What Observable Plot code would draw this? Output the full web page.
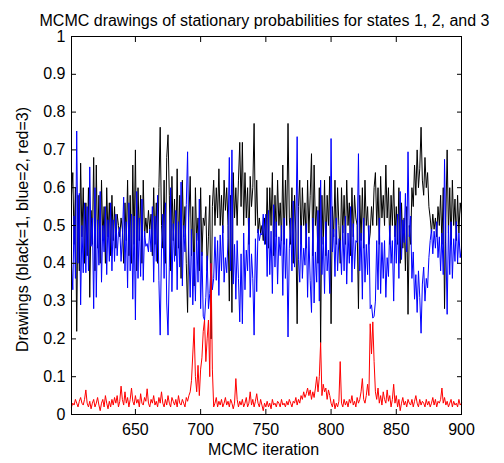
<!DOCTYPE html>
<html><head><meta charset="utf-8">
<script src="https://cdn.jsdelivr.net/npm/d3@7"></script>
<script src="https://cdn.jsdelivr.net/npm/@observablehq/plot@0.6"></script>
<style>body{margin:0;background:#fff}#chart svg{display:block}</style>
</head><body><div id="chart"></div>
<script>
const iterations = d3.range(601, 901);

const black = [
0.58,0.64,0.45,0.6,0.22,0.58,0.38,0.665,0.47,0.6,
0.4,0.56,0.42,0.6,0.31,0.54,0.45,0.68,0.38,0.66,
0.44,0.58,0.4,0.62,0.46,0.55,0.4,0.6,0.47,0.56,
0.42,0.58,0.46,0.55,0.44,0.53,0.5,0.47,0.52,0.49,
0.4,0.56,0.46,0.62,0.42,0.58,0.4,0.66,0.45,0.7,
0.38,0.6,0.46,0.58,0.4,0.62,0.47,0.52,0.48,0.54,
0.49,0.53,0.42,0.6,0.45,0.56,0.4,0.6,0.76,0.5,
0.44,0.62,0.4,0.68,0.74,0.58,0.38,0.63,0.46,0.57,
0.42,0.65,0.44,0.58,0.36,0.62,0.47,0.55,0.4,0.27,
0.52,0.63,0.42,0.55,0.34,0.6,0.46,0.52,0.38,0.6,
0.42,0.52,0.5,0.55,0.38,0.47,0.58,0.2,0.55,0.62,
0.5,0.6,0.52,0.65,0.5,0.58,0.48,0.62,0.54,0.6,
0.5,0.3,0.58,0.27,0.64,0.52,0.6,0.5,0.62,0.72,
0.55,0.72,0.5,0.64,0.52,0.6,0.45,0.63,0.55,0.6,
0.77,0.5,0.62,0.48,0.52,0.48,0.5,0.46,0.52,0.45,
0.6,0.44,0.6,0.5,0.64,0.42,0.58,0.47,0.62,0.5,
0.56,0.46,0.66,0.45,0.62,0.5,0.77,0.52,0.45,0.6,
0.4,0.58,0.48,0.24,0.55,0.62,0.45,0.6,0.5,0.56,
0.44,0.62,0.48,0.58,0.69,0.42,0.66,0.5,0.55,0.4,
0.6,0.19,0.58,0.45,0.62,0.42,0.58,0.5,0.63,0.24,
0.55,0.47,0.62,0.45,0.6,0.5,0.4,0.6,0.48,0.58,
0.45,0.62,0.5,0.56,0.42,0.6,0.47,0.58,0.52,0.5,
0.28,0.58,0.46,0.6,0.44,0.62,0.5,0.55,0.45,0.48,
0.55,0.5,0.6,0.64,0.5,0.6,0.45,0.63,0.52,0.58,
0.5,0.66,0.52,0.6,0.45,0.58,0.5,0.62,0.47,0.55,
0.45,0.6,0.4,0.56,0.44,0.52,0.38,0.55,0.265,0.5,
0.45,0.6,0.55,0.66,0.58,0.7,0.6,0.65,0.76,0.62,
0.58,0.68,0.6,0.64,0.55,0.52,0.48,0.53,0.49,0.52,
0.47,0.55,0.5,0.58,0.45,0.6,0.28,0.52,0.7,0.48,
0.6,0.45,0.62,0.5,0.57,0.46,0.58,0.48,0.56,0.53
];

const blue = [
0.4,0.33,0.525,0.36,0.75,0.4,0.585,0.29,0.5,0.375,
0.56,0.375,0.55,0.38,0.655,0.445,0.52,0.28,0.6,0.31,
0.515,0.395,0.59,0.35,0.5,0.43,0.55,0.37,0.515,0.405,
0.56,0.38,0.515,0.405,0.53,0.42,0.48,0.495,0.405,0.47,
0.575,0.38,0.51,0.335,0.56,0.38,0.53,0.305,0.525,0.25,
0.59,0.36,0.52,0.365,0.57,0.355,0.485,0.445,0.452,0.43,
0.49,0.43,0.55,0.35,0.525,0.405,0.58,0.355,0.21,0.44,
0.53,0.36,0.56,0.295,0.21,0.39,0.6,0.325,0.505,0.405,
0.54,0.33,0.51,0.39,0.615,0.34,0.5,0.43,0.555,0.695,
0.43,0.31,0.49,0.29,0.43,0.3,0.48,0.35,0.57,0.28,
0.43,0.26,0.25,0.31,0.42,0.28,0.32,0.4,0.33,0.36,
0.47,0.355,0.46,0.315,0.475,0.38,0.5,0.35,0.415,0.375,
0.465,0.68,0.38,0.7,0.345,0.45,0.305,0.46,0.36,0.245,
0.425,0.24,0.48,0.33,0.435,0.38,0.52,0.31,0.425,0.36,
0.21,0.465,0.325,0.49,0.46,0.48,0.475,0.53,0.45,0.53,
0.365,0.54,0.37,0.485,0.32,0.555,0.39,0.51,0.345,0.47,
0.42,0.5,0.315,0.52,0.36,0.465,0.205,0.44,0.52,0.38,
0.565,0.39,0.475,0.735,0.41,0.35,0.5,0.36,0.44,0.395,
0.505,0.31,0.47,0.355,0.27,0.52,0.295,0.43,0.35,0.54,
0.3,0.62,0.37,0.47,0.32,0.51,0.38,0.435,0.32,0.73,
0.43,0.49,0.365,0.52,0.38,0.465,0.46,0.37,0.5,0.38,
0.525,0.345,0.48,0.4,0.55,0.35,0.505,0.385,0.46,0.455,
0.69,0.38,0.48,0.305,0.52,0.35,0.45,0.37,0.5,0.28,
0.29,0.255,0.26,0.3,0.46,0.33,0.52,0.32,0.455,0.36,
0.46,0.31,0.415,0.365,0.5,0.4,0.46,0.3,0.5,0.4,
0.53,0.36,0.59,0.41,0.515,0.455,0.585,0.43,0.695,0.47,
0.525,0.36,0.43,0.305,0.37,0.27,0.38,0.31,0.215,0.345,
0.39,0.3,0.36,0.335,0.415,0.46,0.49,0.425,0.485,0.44,
0.51,0.415,0.47,0.38,0.48,0.37,0.675,0.455,0.265,0.5,
0.37,0.51,0.36,0.465,0.405,0.51,0.4,0.48,0.415,0.44
];

const red = [
0.02,0.03,0.025,0.04,0.03,0.02,0.035,0.045,0.03,0.025,
0.04,0.065,0.03,0.02,0.035,0.015,0.03,0.04,0.02,0.03,
0.045,0.025,0.01,0.03,0.04,0.02,0.05,0.03,0.015,0.035,
0.02,0.04,0.025,0.045,0.03,0.05,0.02,0.035,0.075,0.04,
0.025,0.06,0.03,0.045,0.02,0.04,0.07,0.035,0.025,0.05,
0.03,0.04,0.02,0.055,0.03,0.025,0.045,0.035,0.068,0.03,
0.02,0.04,0.03,0.05,0.025,0.035,0.02,0.045,0.03,0.06,
0.03,0.02,0.04,0.025,0.05,0.03,0.02,0.045,0.035,0.025,
0.04,0.02,0.05,0.03,0.025,0.04,0.03,0.02,0.045,0.035,
0.05,0.06,0.09,0.16,0.23,0.1,0.06,0.13,0.05,0.12,
0.15,0.22,0.25,0.14,0.2,0.25,0.1,0.4,0.12,0.02,
0.03,0.045,0.02,0.035,0.025,0.04,0.02,0.03,0.045,0.025,
0.035,0.02,0.04,0.03,0.015,0.03,0.095,0.04,0.02,0.035,
0.025,0.04,0.02,0.03,0.045,0.02,0.03,0.06,0.025,0.04,
0.02,0.035,0.055,0.03,0.02,0.04,0.025,0.01,0.03,0.02,
0.035,0.02,0.03,0.015,0.04,0.025,0.03,0.02,0.035,0.03,
0.02,0.04,0.025,0.03,0.02,0.035,0.025,0.04,0.03,0.02,
0.035,0.03,0.045,0.025,0.04,0.03,0.05,0.04,0.06,0.045,
0.055,0.07,0.05,0.065,0.04,0.06,0.045,0.07,0.1,0.06,
0.1,0.19,0.05,0.08,0.06,0.07,0.04,0.065,0.05,0.03,
0.02,0.04,0.015,0.03,0.02,0.035,0.14,0.03,0.02,0.04,
0.025,0.035,0.02,0.04,0.03,0.05,0.025,0.035,0.02,0.045,
0.03,0.04,0.06,0.095,0.04,0.03,0.05,0.08,0.05,0.24,
0.16,0.245,0.14,0.06,0.04,0.07,0.03,0.05,0.025,0.06,
0.04,0.03,0.065,0.035,0.05,0.02,0.04,0.08,0.03,0.05,
0.02,0.04,0.01,0.03,0.045,0.025,0.035,0.02,0.04,0.03,
0.025,0.04,0.02,0.035,0.05,0.03,0.02,0.04,0.025,0.035,
0.03,0.02,0.04,0.025,0.035,0.02,0.03,0.045,0.025,0.04,
0.02,0.035,0.03,0.04,0.07,0.03,0.045,0.025,0.035,0.02,
0.03,0.04,0.02,0.035,0.025,0.03,0.02,0.04,0.025,0.03
];

const xTicks = [650, 700, 750, 800, 850, 900];
const yTicks = [0, 0.1, 0.2, 0.3, 0.4, 0.5, 0.6, 0.7, 0.8, 0.9, 1];
const yTickLabels = ["0", "0.1", "0.2", "0.3", "0.4", "0.5", "0.6", "0.7", "0.8", "0.9", "1"];
const titleText = "MCMC drawings of stationary probabilities for states 1, 2, and 3";
const xLabelText = "MCMC iteration";
const yLabelText = "Drawings (black=1, blue=2, red=3)";

const font = "'Liberation Sans', Arial, Helvetica, sans-serif";

const chart = Plot.plot({
  width: 504,
  height: 463,
  marginLeft: 71,
  marginRight: 43,
  marginTop: 36,
  marginBottom: 49,
  style: {fontFamily: font, fontSize: "16px", color: "#000", background: "#fff"},
  x: {domain: [601, 900], axis: null},
  y: {domain: [0, 1], axis: null},
  marks: [
    Plot.line(black, {x: (d, i) => iterations[i], y: d => d, stroke: "#000000", strokeWidth: 1}),
    Plot.line(blue, {x: (d, i) => iterations[i], y: d => d, stroke: "#0000ff", strokeWidth: 1}),
    Plot.line(red, {x: (d, i) => iterations[i], y: d => d, stroke: "#ff0000", strokeWidth: 1}),
    Plot.frame({stroke: "#000", strokeWidth: 1}),
    Plot.axisX(xTicks, {anchor: "bottom", tickSize: -5, tickPadding: 14, fontSize: 16, label: null, tickFormat: d => String(d)}),
    Plot.axisX(xTicks, {anchor: "top", tickSize: -5, text: null, label: null}),
    Plot.axisY(yTicks, {anchor: "left", tickSize: -5, tickPadding: 11, fontSize: 16, label: null, tickFormat: (d, i) => yTickLabels[i]}),
    Plot.axisY(yTicks, {anchor: "right", tickSize: -5, text: null, label: null}),
    Plot.text([titleText], {frameAnchor: "top", dy: -22, dx: -2, fontSize: 16, fill: "#000"}),
    Plot.text([xLabelText], {frameAnchor: "bottom", dy: 40, dx: -3, fontSize: 16, fill: "#000"}),
    Plot.text([yLabelText], {frameAnchor: "left", textAnchor: "middle", rotate: -90, dx: -49, dy: 4, fontSize: 16, fill: "#000"})
  ]
});
document.getElementById("chart").appendChild(chart);
</script>
</body></html>
